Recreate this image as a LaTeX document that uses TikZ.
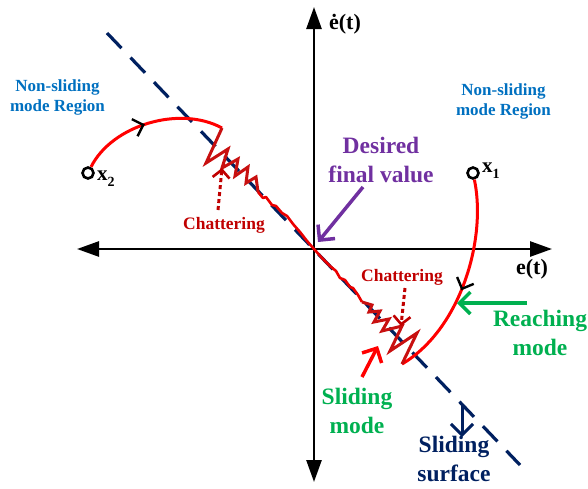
\documentclass[tikz,border=0pt]{standalone}
\usepackage{fontspec}
\setmainfont{Liberation Serif}
\usetikzlibrary{arrows.meta,decorations.markings}
\definecolor{nsblue}{RGB}{0,112,192}
\definecolor{navy}{RGB}{0,32,96}
\definecolor{purp}{RGB}{112,48,160}
\definecolor{grn}{RGB}{0,176,80}
\definecolor{chred}{RGB}{192,0,0}
\definecolor{zzred}{RGB}{200,16,16}
\begin{document}
\begin{tikzpicture}[x=1pt,y=-1pt,
  axisline/.style={line width=2.6pt,{Triangle[length=22pt,width=15pt]}-{Triangle[length=22pt,width=15pt]}},
  txt/.style={inner sep=0pt,align=center},
  big/.style={txt,font=\bfseries\fontsize{23.5}{29}\selectfont},
  mid/.style={txt,font=\bfseries\fontsize{17}{20}\selectfont},
  barb/.style={-{Straight Barb[length=11pt,width=22pt,line width=#1]}},
  state/.style={circle,draw=black,line width=2.6pt,minimum size=11pt,inner sep=0pt},
  traj/.style={red,line width=3pt},
  midarrow/.style={postaction={decorate},decoration={markings,
     mark=at position #1 with {\arrow{Straight Barb[color=black,length=9pt,width=18pt,line width=2.4pt]}}}}
]
\useasboundingbox (0,0) rectangle (588,488);

% axes
\coordinate (O) at (314,249);
\coordinate (L) at (77,249);
\coordinate (R) at (552,249);
\coordinate (T) at (314,7);
\coordinate (B) at (314,482);
\draw[axisline] (L) -- (R);
\draw[axisline] (B) -- (T);

% sliding surface
\coordinate (S1) at (107,33);
\coordinate (S2) at (520,465);
\draw[navy,line width=3.2pt,dash pattern=on 21pt off 13pt] (S1) -- (S2);

% states
\node[state] (x2c) at (88,173) {};
\node[state] (x1c) at (473,173) {};
\node[anchor=west,inner sep=0pt,font=\bfseries\fontsize{21}{21}\selectfont] (x2l) at (97,179) {x\raisebox{-0.3em}{\fontsize{14}{14}\selectfont 2}};
\node[anchor=west,inner sep=0pt,font=\bfseries\fontsize{21}{21}\selectfont] (x1l) at (482,171) {x\raisebox{-0.3em}{\fontsize{14}{14}\selectfont 1}};

% trajectories
\coordinate (Z1) at (222,128);
\coordinate (Z2) at (402,364);
\draw[traj,midarrow=0.47] (x2c) .. controls (112,125) and (180,105) .. (Z1);
\draw[traj,midarrow=0.54] (x1c) .. controls (487,240) and (460,330) .. (Z2);

% chattering (upper)
\draw[zzred,line width=3pt] (Z1) -- (206,163) -- (228,149) -- (222,168) -- (238,159) -- (235,176)
  -- (248,167) -- (246,183) -- (256,177) -- (258,192);
% sliding toward origin
\draw[red!92!black,line width=2.6pt,line join=round] (258,192) -- (263,198) -- (266,197) -- (272,205) -- (276,206)
  -- (282,213) -- (287,216) -- (293,224) -- (300,232) -- (307,241) -- (O)
  -- (322,258) -- (330,266) -- (336,271) -- (340,278) -- (345,280) -- (350,287) -- (353,288)
  -- (358,295) -- (362,302);
% chattering (lower)
\draw[zzred,line width=3pt] (362,302) -- (372,305) -- (369,312) -- (380,311) -- (374,322)
  -- (389,319) -- (382,331) -- (402,326) -- (390,351) -- (417,333) -- (Z2);

% labels
\node[mid,text=nsblue] (nsl) at (57.5,97) {Non-sliding\\mode Region};
\node[mid,text=nsblue] (nsr) at (503.5,101) {Non-sliding\\mode Region};
\node[big,text=purp] (des) at (381,160) {Desired\\final value};
\node[txt,font=\bfseries\fontsize{17.5}{20}\selectfont,text=chred] (chu) at (224,225) {Chattering};
\node[txt,font=\bfseries\fontsize{17.5}{20}\selectfont,text=chred] (chl) at (402,277) {Chattering};
\node[big,text=grn] (rea) at (540,333) {Reaching\\mode};
\node[big,text=grn] (slm) at (357,411) {Sliding\\mode};
\node[big,text=navy] (sls) at (454,459) {Sliding\\surface};
\node[txt,font=\bfseries\fontsize{22}{22}\selectfont] (ed) at (345,24) {ė(t)};
\node[txt,font=\bfseries\fontsize{22}{22}\selectfont] (et) at (532,269) {e(t)};

% pointer arrows
\coordinate (ca1) at (218,210);
\coordinate (ca2) at (222,168);
\draw[chred,line width=3pt,dash pattern=on 4pt off 3pt,-{Straight Barb[length=8pt,width=17pt,line width=2.6pt]}] (ca1) -- (ca2);
\coordinate (cb1) at (405,288);
\coordinate (cb2) at (401,326);
\draw[chred,line width=3pt,dash pattern=on 4pt off 3pt,-{Straight Barb[length=8pt,width=17pt,line width=2.6pt]}] (cb1) -- (cb2);

\coordinate (pa1) at (363,187);
\coordinate (pa2) at (318,242);
\draw[purp,line width=3.5pt,barb=3.5pt] (pa1) -- (pa2);
\coordinate (ga1) at (527,303);
\coordinate (ga2) at (457,303);
\draw[grn,line width=3.5pt,barb=3.5pt] (ga1) -- (ga2);
\coordinate (ra1) at (362,377);
\coordinate (ra2) at (378,346);
\draw[red,line width=3.5pt,barb=3.5pt] (ra1) -- (ra2);
\coordinate (na1) at (462,404);
\coordinate (na2) at (462,437);
\draw[navy,line width=3pt,barb=3pt] (na1) -- (na2);
\end{tikzpicture}
\end{document}
